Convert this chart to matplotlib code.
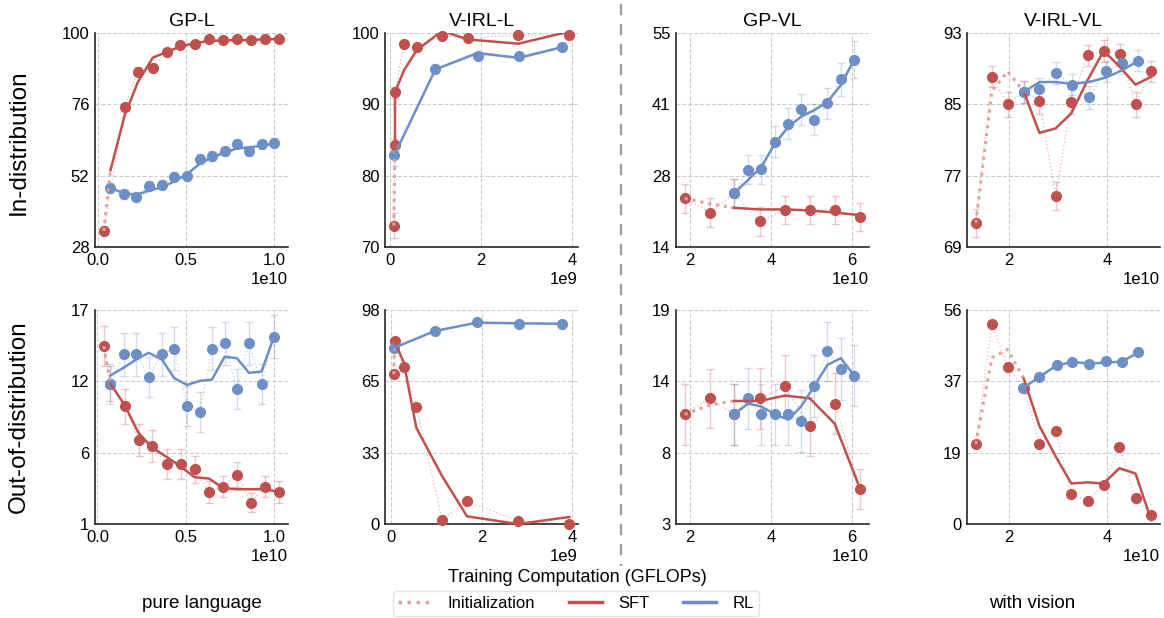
import matplotlib
matplotlib.use("Agg")
import numpy as np
import matplotlib.pyplot as plt
from matplotlib.lines import Line2D

plt.rcParams['font.family'] = ['Liberation Sans', 'DejaVu Sans']

RED = '#C0504D'
BLUE = '#6C8FC7'
INIT = '#E2A09E'

# ---------------- GP-L, in-distribution (x in 1e10 GFLOPs)
gpl_id_init_x = [0.032, 0.070]
gpl_id_init_y = [33.4, 53.8]
gpl_id_sft_x = [0.032, 0.151, 0.226, 0.311, 0.389, 0.468, 0.551, 0.630, 0.709, 0.789, 0.868, 0.949, 1.030]
gpl_id_sft_y = [33.4, 75.1, 87.0, 88.3, 93.5, 95.9, 96.3, 97.9, 97.8, 97.9, 97.6, 98.1, 98.1]
gpl_id_sft_err = [1.5, 1.5, 1.4, 1.4, 1.0, 1.0, 1.0, 0.8, 0.8, 0.8, 0.8, 0.8, 0.8]
gpl_id_sftl_x = [0.070, 0.151, 0.226, 0.311, 0.389, 0.468, 0.551, 0.630, 0.709, 0.789, 0.868, 0.949, 1.030]
gpl_id_sftl_y = [53.8, 72.3, 83.5, 91.7, 93.6, 95.5, 96.6, 97.3, 97.5, 97.6, 97.6, 97.9, 98.0]
gpl_id_rl_x = [0.070, 0.145, 0.217, 0.292, 0.362, 0.434, 0.506, 0.579, 0.647, 0.719, 0.791, 0.858, 0.930, 1.000]
gpl_id_rl_y = [47.9, 45.9, 44.9, 48.5, 49.0, 51.6, 51.8, 57.6, 58.7, 60.2, 62.8, 60.2, 62.5, 63.1]
gpl_id_rl_err = [1.6, 1.6, 1.6, 1.6, 1.6, 1.6, 1.6, 1.6, 1.6, 1.6, 1.6, 1.6, 1.6, 1.6]
gpl_id_rll_y = [47.9, 46.1, 45.6, 47.0, 48.1, 50.1, 52.6, 56.0, 58.2, 59.7, 61.2, 61.5, 62.1, 62.7]

# ---------------- V-IRL-L, in-distribution (x in 1e9 GFLOPs)
virll_id_init_x = [0.073, 0.10]
virll_id_init_y = [73.0, 84.3]
virll_id_sft_x = [0.073, 0.10, 0.10, 0.30, 0.58, 1.14, 1.70, 2.82, 3.94]
virll_id_sft_y = [73.0, 84.3, 91.7, 98.5, 98.1, 99.6, 99.3, 99.7, 99.7]
virll_id_sft_err = [1.7, 0.8, 0.8, 0.4, 0.4, 0.3, 0.3, 0.3, 0.3]
virll_id_sftl_x = [0.10, 0.10, 0.30, 0.58, 1.14, 1.70, 2.82, 3.94]
virll_id_sftl_y = [84.3, 91.7, 94.8, 97.6, 100.3, 99.1, 98.5, 100.2]
virll_id_rl_x = [0.088, 0.99, 1.92, 2.83, 3.77]
virll_id_rl_y = [82.9, 95.0, 96.8, 96.8, 98.0]
virll_id_rl_err = [1.5, 0.6, 0.4, 0.4, 0.4]
virll_id_rll_y = [82.9, 94.9, 97.2, 96.5, 98.0]

# ---------------- GP-VL, in-distribution (x in 1e10 GFLOPs)
gpvl_id_init_x = [1.87, 2.49, 3.09]
gpvl_id_init_y = [23.3, 22.3, 21.5]
gpvl_id_sft_x = [1.87, 2.49, 3.09, 3.72, 4.35, 4.96, 5.58, 6.21]
gpvl_id_sft_y = [23.3, 20.6, 24.3, 18.9, 21.1, 21.1, 21.1, 19.8]
gpvl_id_sft_err = [2.7, 2.7, 2.7, 2.7, 2.7, 2.7, 2.7, 2.7]
gpvl_id_sftl_x = [3.09, 3.72, 4.35, 4.96, 5.58, 6.21]
gpvl_id_sftl_y = [21.5, 21.2, 21.2, 21.0, 20.6, 20.1]
gpvl_id_rl_x = [3.09, 3.43, 3.76, 4.10, 4.43, 4.75, 5.07, 5.40, 5.73, 6.06]
gpvl_id_rl_y = [24.3, 28.8, 28.9, 34.2, 37.6, 40.4, 38.4, 41.5, 46.1, 49.9]
gpvl_id_rl_err = [2.8, 2.8, 2.8, 3.0, 3.0, 3.0, 3.0, 3.0, 3.2, 3.5]
gpvl_id_rll_y = [24.3, 26.8, 29.3, 33.8, 37.0, 39.0, 40.2, 41.8, 45.0, 49.9]

# ---------------- V-IRL-VL, in-distribution (x in 1e10 GFLOPs)
virlvl_id_init_x = [1.32, 1.65, 1.97, 2.30]
virlvl_id_init_y = [71.7, 86.5, 88.7, 86.4]
virlvl_id_sft_x = [1.32, 1.65, 1.97, 2.30, 2.62, 2.95, 3.27, 3.60, 3.93, 4.26, 4.58, 4.90]
virlvl_id_sft_y = [71.7, 88.1, 85.0, 86.4, 85.4, 74.7, 85.3, 90.5, 91.0, 90.6, 85.0, 88.7]
virlvl_id_sft_err = [1.6, 1.2, 1.4, 1.2, 1.5, 1.6, 1.4, 1.2, 1.2, 1.2, 1.4, 1.2]
virlvl_id_sftl_x = [2.30, 2.62, 2.95, 3.27, 3.60, 3.93, 4.26, 4.58, 4.90]
virlvl_id_sftl_y = [86.4, 81.8, 82.3, 84.0, 87.7, 91.0, 89.2, 87.2, 88.1]
virlvl_id_rl_x = [2.30, 2.62, 2.95, 3.29, 3.63, 3.97, 4.30, 4.64]
virlvl_id_rl_y = [86.4, 86.7, 88.5, 87.2, 85.8, 88.7, 89.6, 89.9]
virlvl_id_rl_err = [1.2, 1.2, 1.2, 1.2, 1.3, 1.2, 1.2, 1.2]
virlvl_id_rll_y = [86.4, 87.5, 87.5, 87.3, 87.5, 88.0, 88.8, 89.9]

# ---------------- GP-L, out-of-distribution
gpl_ood_init_x = [0.036, 0.073]
gpl_ood_init_y = [14.3, 11.5]
gpl_ood_sft_x = [0.036, 0.073, 0.154, 0.233, 0.311, 0.394, 0.471, 0.550, 0.632, 0.711, 0.790, 0.869, 0.947, 1.030]
gpl_ood_sft_y = [14.3, 11.5, 9.8, 7.3, 6.8, 5.5, 5.5, 5.1, 3.4, 3.8, 4.7, 2.6, 3.8, 3.4]
gpl_ood_sft_err = [1.5, 1.3, 1.3, 1.2, 1.2, 1.1, 1.1, 1.0, 0.8, 0.8, 0.9, 0.7, 0.8, 0.8]
gpl_ood_sftl_x = [0.073, 0.154, 0.233, 0.311, 0.394, 0.471, 0.550, 0.632, 0.711, 0.790, 0.869, 0.947, 1.030]
gpl_ood_sftl_y = [11.5, 9.9, 7.8, 6.7, 6.0, 5.3, 4.5, 4.4, 3.7, 3.6, 3.6, 3.6, 3.4]
gpl_ood_rl_x = [0.073, 0.150, 0.220, 0.290, 0.366, 0.435, 0.508, 0.580, 0.649, 0.720, 0.790, 0.859, 0.930, 1.000]
gpl_ood_rl_y = [11.5, 13.7, 13.7, 12.0, 13.7, 14.1, 9.8, 9.4, 14.1, 14.5, 11.1, 14.5, 11.5, 15.0]
gpl_ood_rl_err = [1.5, 1.6, 1.6, 1.5, 1.6, 1.6, 1.5, 1.5, 1.6, 1.6, 1.5, 1.6, 1.5, 1.6]
gpl_ood_rll_y = [12.1, 12.7, 13.3, 13.8, 13.3, 11.9, 11.4, 11.7, 11.8, 13.5, 13.4, 12.3, 12.4, 15.0]

# ---------------- V-IRL-L, out-of-distribution
virll_ood_init_x = [0.06, 0.08]
virll_ood_init_y = [68.6, 83.6]
virll_ood_sft_x = [0.06, 0.08, 0.28, 0.56, 1.13, 1.68, 2.81, 3.94]
virll_ood_sft_y = [68.6, 83.6, 72.0, 53.7, 2.0, 10.4, 1.4, 0.0]
virll_ood_sft_err = [1.0, 1.0, 1.0, 1.0, 0.6, 0.6, 0.5, 0.3]
virll_ood_sftl_x = [0.08, 0.28, 0.56, 1.13, 1.68, 2.81, 3.94]
virll_ood_sftl_y = [83.6, 74.0, 44.0, 21.9, 3.5, 0.0, 3.2]
virll_ood_rl_x = [0.07, 0.97, 1.90, 2.82, 3.77]
virll_ood_rl_y = [80.7, 88.4, 92.5, 91.6, 91.7]
virll_ood_rl_err = [1.2, 0.8, 0.6, 0.6, 0.6]
virll_ood_rll_y = [80.7, 88.4, 92.2, 91.9, 91.7]

# ---------------- GP-VL, out-of-distribution
gpvl_ood_init_x = [1.87, 2.49, 3.09]
gpvl_ood_init_y = [11.2, 11.9, 12.2]
gpvl_ood_sft_x = [1.87, 2.49, 3.09, 3.73, 4.35, 4.96, 5.58, 6.21]
gpvl_ood_sft_y = [11.2, 12.4, 11.2, 12.4, 13.3, 10.3, 12.0, 5.6]
gpvl_ood_sft_err = [2.3, 2.2, 2.3, 2.3, 2.3, 2.2, 2.3, 1.5]
gpvl_ood_sftl_x = [3.09, 3.73, 4.35, 4.96, 5.58, 6.21]
gpvl_ood_sftl_y = [12.2, 12.2, 12.6, 12.4, 10.5, 5.6]
gpvl_ood_rl_x = [3.09, 3.43, 3.75, 4.10, 4.43, 4.75, 5.07, 5.40, 5.73, 6.06]
gpvl_ood_rl_y = [11.2, 12.4, 11.2, 11.2, 11.2, 10.7, 13.3, 15.9, 14.6, 14.1]
gpvl_ood_rl_err = [2.3, 2.3, 2.3, 2.3, 2.3, 2.3, 2.3, 2.2, 2.3, 2.3]
gpvl_ood_rll_y = [11.2, 12.0, 11.8, 11.2, 10.8, 11.8, 13.3, 14.9, 15.4, 14.1]

# ---------------- V-IRL-VL, out-of-distribution
virlvl_ood_init_x = [1.32, 1.65, 1.97, 2.30]
virlvl_ood_init_y = [21.0, 43.5, 45.7, 38.0]
virlvl_ood_sft_x = [1.32, 1.65, 1.97, 2.30, 2.62, 2.95, 3.27, 3.60, 3.93, 4.25, 4.58, 4.90]
virlvl_ood_sft_y = [21.0, 52.3, 41.0, 35.6, 21.0, 24.4, 7.8, 6.0, 10.3, 20.2, 6.7, 2.4]
virlvl_ood_sft_err = [0.6, 0.6, 0.6, 0.6, 0.6, 0.6, 0.6, 0.6, 0.6, 0.6, 0.6, 0.6]
virlvl_ood_sftl_x = [2.30, 2.62, 2.95, 3.27, 3.60, 3.93, 4.25, 4.58, 4.90]
virlvl_ood_sftl_y = [38.0, 25.6, 17.7, 10.6, 10.9, 10.6, 14.6, 13.2, 1.0]
virlvl_ood_rl_x = [2.29, 2.62, 2.97, 3.29, 3.63, 3.97, 4.30, 4.64]
virlvl_ood_rl_y = [35.6, 38.5, 41.7, 42.4, 41.8, 42.7, 42.4, 44.9]
virlvl_ood_rl_err = [0.9, 0.9, 0.9, 0.9, 0.9, 0.9, 0.9, 0.9]
virlvl_ood_rll_y = [35.6, 38.5, 41.5, 42.4, 42.0, 42.2, 42.5, 44.9]

titles = ["GP-L", "V-IRL-L", "GP-VL", "V-IRL-VL"]
x_scales = [1e10, 1e9, 1e10, 1e10]
x_ticks = [[0, 0.5, 1.0], [0, 2, 4], [2, 4, 6], [2, 4]]
id_ylims = [(28, 100), (70, 100), (14, 55), (69, 93)]
ood_ylims = [(1, 17), (0, 98), (3, 19), (0, 56)]


def panel(prefix):
    g = globals()
    keys = ["init_x", "init_y", "sft_x", "sft_y", "sft_err", "sftl_x", "sftl_y",
            "rl_x", "rl_y", "rl_err", "rll_y"]
    return {k: np.array(g[prefix + "_" + k]) for k in keys}


id_panels = [panel(p) for p in ["gpl_id", "virll_id", "gpvl_id", "virlvl_id"]]
ood_panels = [panel(p) for p in ["gpl_ood", "virll_ood", "gpvl_ood", "virlvl_ood"]]


def draw(ax, d, s, ylim, xt):
    # faint raw curves
    ax.plot(d["sft_x"] * s, d["sft_y"], ls=":", lw=1, color=RED, alpha=0.35, zorder=2)
    ax.plot(d["rl_x"] * s, d["rl_y"], ls=":", lw=1, color=BLUE, alpha=0.35, zorder=2)
    # error bars
    ax.errorbar(d["sft_x"] * s, d["sft_y"], yerr=d["sft_err"], fmt="none",
                ecolor=RED, alpha=0.3, elinewidth=1, capsize=3, zorder=2)
    ax.errorbar(d["rl_x"] * s, d["rl_y"], yerr=d["rl_err"], fmt="none",
                ecolor=BLUE, alpha=0.3, elinewidth=1, capsize=3, zorder=2)
    # markers
    ax.plot(d["sft_x"] * s, d["sft_y"], "o", ms=7, color=RED, zorder=3, clip_on=False)
    ax.plot(d["rl_x"] * s, d["rl_y"], "o", ms=7, color=BLUE, zorder=3, clip_on=False)
    # smoothed curves
    ax.plot(d["init_x"] * s, d["init_y"], ls=(0, (1, 1.6)), lw=2.2, color=INIT, zorder=4)
    ax.plot(d["sftl_x"] * s, d["sftl_y"], lw=1.8, color=RED, zorder=4)
    ax.plot(d["rl_x"] * s, d["rll_y"], lw=1.8, color=BLUE, zorder=4)

    yt = np.linspace(ylim[0], ylim[1], 4)
    ax.set_ylim(*ylim)
    ax.set_yticks(yt)
    ax.set_yticklabels([f"{v:.0f}" for v in yt])
    ax.set_xticks([t * s for t in xt])
    ax.grid(True, ls="--", color="#cccccc", lw=0.8)
    ax.set_axisbelow(True)
    for side in ["top", "right"]:
        ax.spines[side].set_visible(False)
    for side in ["left", "bottom"]:
        ax.spines[side].set_color("0.15")
        ax.spines[side].set_linewidth(1.2)
    ax.tick_params(labelsize=12, length=0, pad=4)
    ax.xaxis.get_offset_text().set_fontsize(12)


fig = plt.figure(figsize=(11.64, 6.18), dpi=100)
W, H = 1164, 618
lefts = [95, 385, 676, 967]
aw, ah = 193, 214
for i in range(4):
    ax = fig.add_axes([lefts[i] / W, 1 - 247 / H, aw / W, ah / H])
    draw(ax, id_panels[i], x_scales[i], id_ylims[i], x_ticks[i])
    ax.set_title(titles[i], fontsize=14, pad=5)
    ax2 = fig.add_axes([lefts[i] / W, 1 - 524 / H, aw / W, ah / H])
    draw(ax2, ood_panels[i], x_scales[i], ood_ylims[i], x_ticks[i])

fig.text(19 / W, 1 - 142 / H, "In-distribution", rotation=90, ha="center", va="center", fontsize=17.5)
fig.text(19 / W, 1 - 417 / H, "Out-of-distribution", rotation=90, ha="center", va="center", fontsize=17.5)
fig.text(577 / W, 1 - 578 / H, "Training Computation (GFLOPs)", ha="center", va="center", fontsize=13)
fig.text(202 / W, 1 - 603 / H, "pure language", ha="center", va="center", fontsize=13.5)
fig.text(1032 / W, 1 - 603 / H, "with vision", ha="center", va="center", fontsize=13.5)

fig.add_artist(Line2D([621 / W, 621 / W], [1 - 4 / H, 1 - 566 / H], transform=fig.transFigure,
                      ls=(0, (5, 4)), lw=1.6, color="#999999"))

handles = [Line2D([], [], ls=(0, (1, 1.6)), lw=2.5, color=INIT),
           Line2D([], [], lw=2.5, color=RED),
           Line2D([], [], lw=2.5, color=BLUE)]
fig.legend(handles, ["Initialization", "SFT", "RL"], loc="center",
           bbox_to_anchor=(576 / W, 1 - 603 / H), ncol=3, fontsize=12,
           handlelength=2.0, handletextpad=1.0, columnspacing=2.0,
           frameon=True, edgecolor="#dddddd", borderpad=0.3)

fig.savefig("out.png", dpi=100)
